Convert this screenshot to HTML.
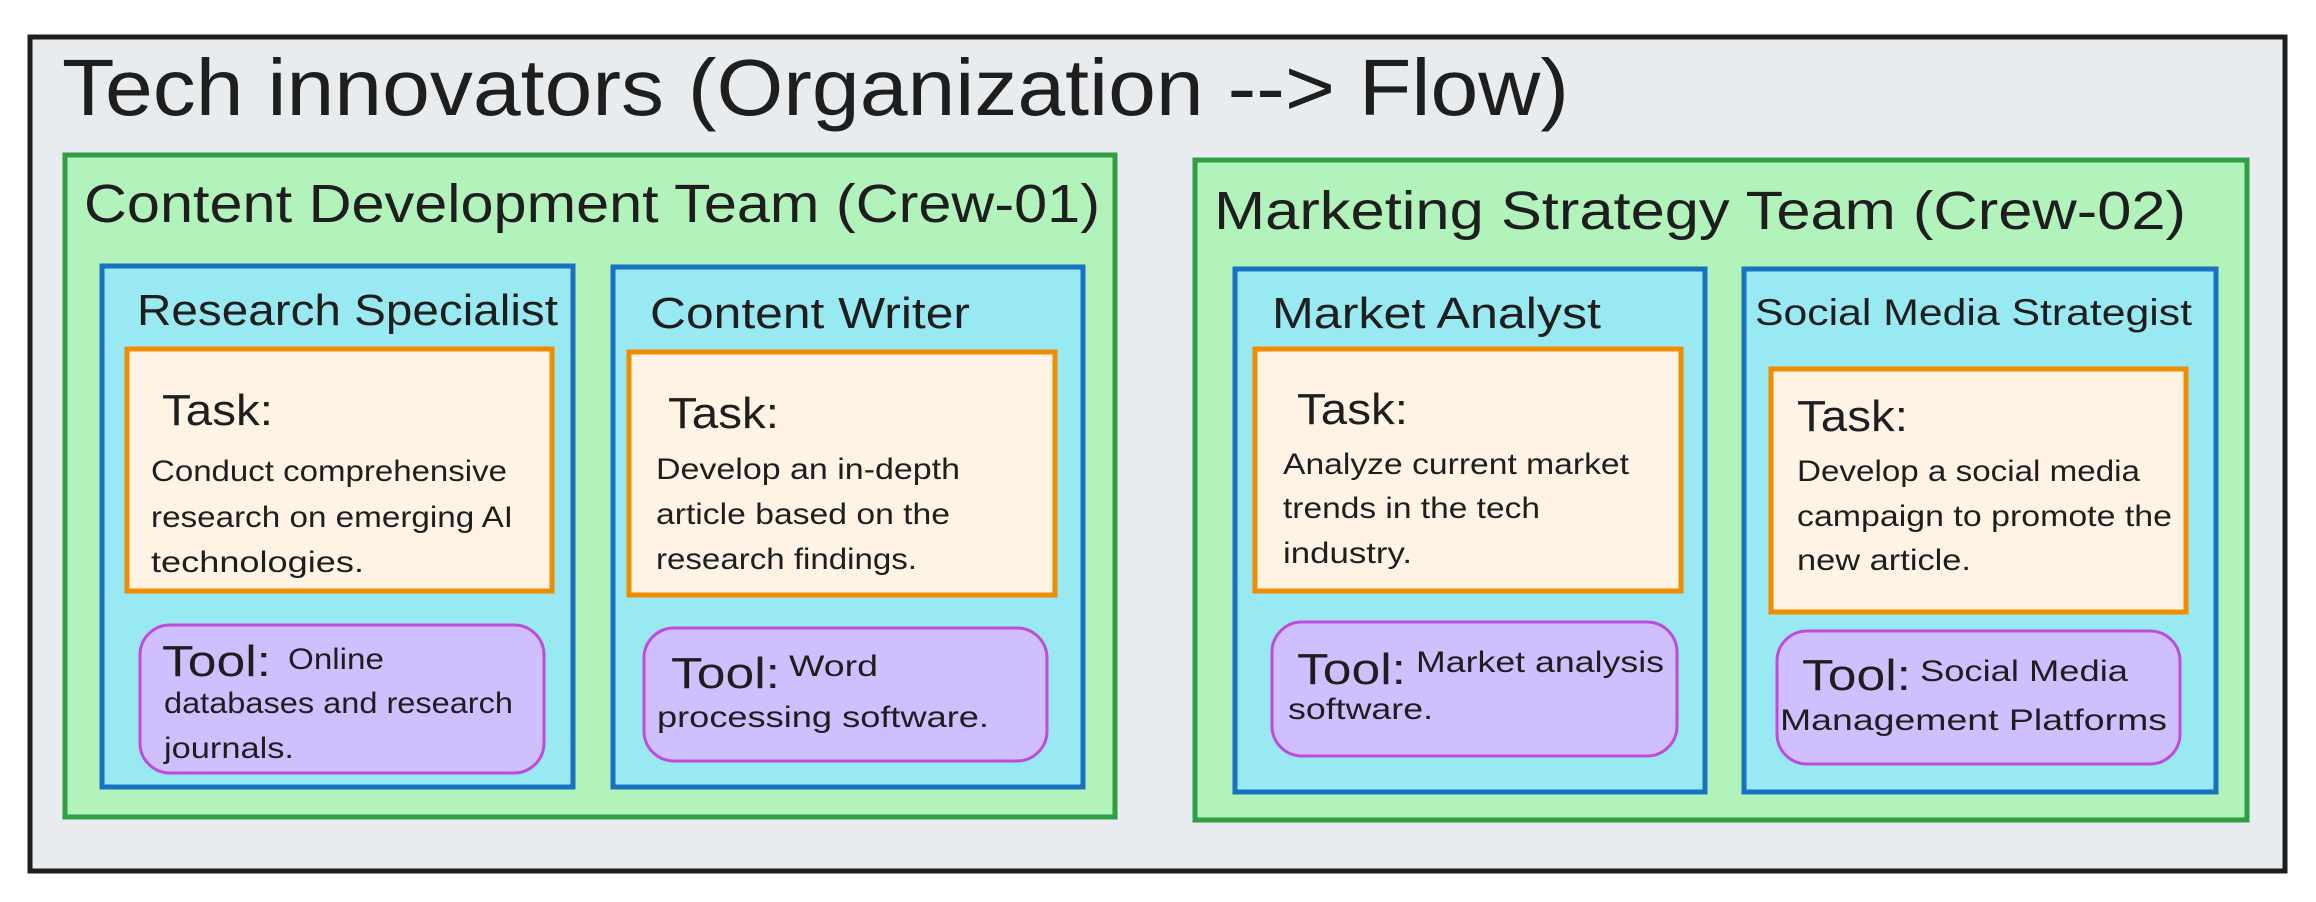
<!DOCTYPE html>
<html><head><meta charset="utf-8"><style>html,body{margin:0;padding:0;background:#fff}svg{display:block}text{font-family:"Liberation Sans",sans-serif;fill:#1e1e1e}</style></head>
<body>
<svg width="2316" height="902" viewBox="0 0 2316 902" xmlns="http://www.w3.org/2000/svg">
<rect x="30" y="37" width="2255" height="834" fill="#e9ecef" stroke="#1e1e1e" stroke-width="5"/>
<text x="62" y="115" font-size="80" textLength="1507" lengthAdjust="spacingAndGlyphs">Tech innovators (Organization --&gt; Flow)</text>

<rect x="65" y="155" width="1050" height="662" fill="#b2f2bb" stroke="#2f9e44" stroke-width="5"/>
<text x="84" y="222" font-size="54" textLength="1016" lengthAdjust="spacingAndGlyphs">Content Development Team (Crew-01)</text>
<rect x="1195" y="160" width="1052" height="660" fill="#b2f2bb" stroke="#2f9e44" stroke-width="5"/>
<text x="1214" y="229" font-size="54" textLength="972" lengthAdjust="spacingAndGlyphs">Marketing Strategy Team (Crew-02)</text>

<g fill="#99e9f2" stroke="#1971c2" stroke-width="5">
<rect x="102" y="266" width="471" height="521"/>
<rect x="613" y="267" width="470" height="520"/>
<rect x="1235" y="269" width="470" height="523"/>
<rect x="1744" y="269" width="472" height="523"/>
</g>
<text x="137" y="325" font-size="44" textLength="421" lengthAdjust="spacingAndGlyphs">Research Specialist</text>
<text x="650" y="328" font-size="44" textLength="320" lengthAdjust="spacingAndGlyphs">Content Writer</text>
<text x="1272" y="328" font-size="44" textLength="329" lengthAdjust="spacingAndGlyphs">Market Analyst</text>
<text x="1755" y="325" font-size="37" textLength="437" lengthAdjust="spacingAndGlyphs">Social Media Strategist</text>

<g fill="#fff3e6" stroke="#f08c00" stroke-width="5">
<rect x="127" y="349" width="425" height="242"/>
<rect x="629" y="352" width="426" height="243"/>
<rect x="1255" y="349" width="426" height="242"/>
<rect x="1771" y="369" width="415" height="243"/>
</g>
<g fill="#d0bfff" stroke="#be4bdb" stroke-width="3">
<rect x="140" y="625" width="404" height="148" rx="30"/>
<rect x="644" y="628" width="403" height="133" rx="30"/>
<rect x="1272" y="622" width="405" height="134" rx="30"/>
<rect x="1777" y="631" width="403" height="133" rx="30"/>
</g>

<g font-size="44">
<text x="162" y="425" textLength="111" lengthAdjust="spacingAndGlyphs">Task:</text>
<text x="668" y="428" textLength="111" lengthAdjust="spacingAndGlyphs">Task:</text>
<text x="1297" y="424" textLength="111" lengthAdjust="spacingAndGlyphs">Task:</text>
<text x="1797" y="431" textLength="111" lengthAdjust="spacingAndGlyphs">Task:</text>
<text x="162" y="676" textLength="109" lengthAdjust="spacingAndGlyphs">Tool:</text>
<text x="671" y="688" textLength="109" lengthAdjust="spacingAndGlyphs">Tool:</text>
<text x="1297" y="684" textLength="109" lengthAdjust="spacingAndGlyphs">Tool:</text>
<text x="1802" y="690" textLength="109" lengthAdjust="spacingAndGlyphs">Tool:</text>
</g>
<g font-size="30" lengthAdjust="spacingAndGlyphs">
<text x="151" y="481" textLength="356" lengthAdjust="spacingAndGlyphs">Conduct comprehensive</text>
<text x="151" y="527" textLength="362" lengthAdjust="spacingAndGlyphs">research on emerging AI</text>
<text x="151" y="572" textLength="213" lengthAdjust="spacingAndGlyphs">technologies.</text>
<text x="656" y="479" textLength="304" lengthAdjust="spacingAndGlyphs">Develop an in-depth</text>
<text x="656" y="524" textLength="294" lengthAdjust="spacingAndGlyphs">article based on the</text>
<text x="656" y="569" textLength="261" lengthAdjust="spacingAndGlyphs">research findings.</text>
<text x="1283" y="474" textLength="346" lengthAdjust="spacingAndGlyphs">Analyze current market</text>
<text x="1283" y="518" textLength="257" lengthAdjust="spacingAndGlyphs">trends in the tech</text>
<text x="1283" y="563" textLength="129" lengthAdjust="spacingAndGlyphs">industry.</text>
<text x="1797" y="481" textLength="343" lengthAdjust="spacingAndGlyphs">Develop a social media</text>
<text x="1797" y="526" textLength="375" lengthAdjust="spacingAndGlyphs">campaign to promote the</text>
<text x="1797" y="570" textLength="174" lengthAdjust="spacingAndGlyphs">new article.</text>
<text x="288" y="669" textLength="96" lengthAdjust="spacingAndGlyphs">Online</text>
<text x="164" y="713" textLength="349" lengthAdjust="spacingAndGlyphs">databases and research</text>
<text x="164" y="758" textLength="130" lengthAdjust="spacingAndGlyphs">journals.</text>
<text x="789" y="676" textLength="89" lengthAdjust="spacingAndGlyphs">Word</text>
<text x="657" y="727" textLength="332" lengthAdjust="spacingAndGlyphs">processing software.</text>
<text x="1416" y="672" textLength="248" lengthAdjust="spacingAndGlyphs">Market analysis</text>
<text x="1288" y="719" textLength="145" lengthAdjust="spacingAndGlyphs">software.</text>
<text x="1920" y="681" textLength="208" lengthAdjust="spacingAndGlyphs">Social Media</text>
<text x="1780" y="730" textLength="387" lengthAdjust="spacingAndGlyphs">Management Platforms</text>
</g>
</svg>
</body></html>
